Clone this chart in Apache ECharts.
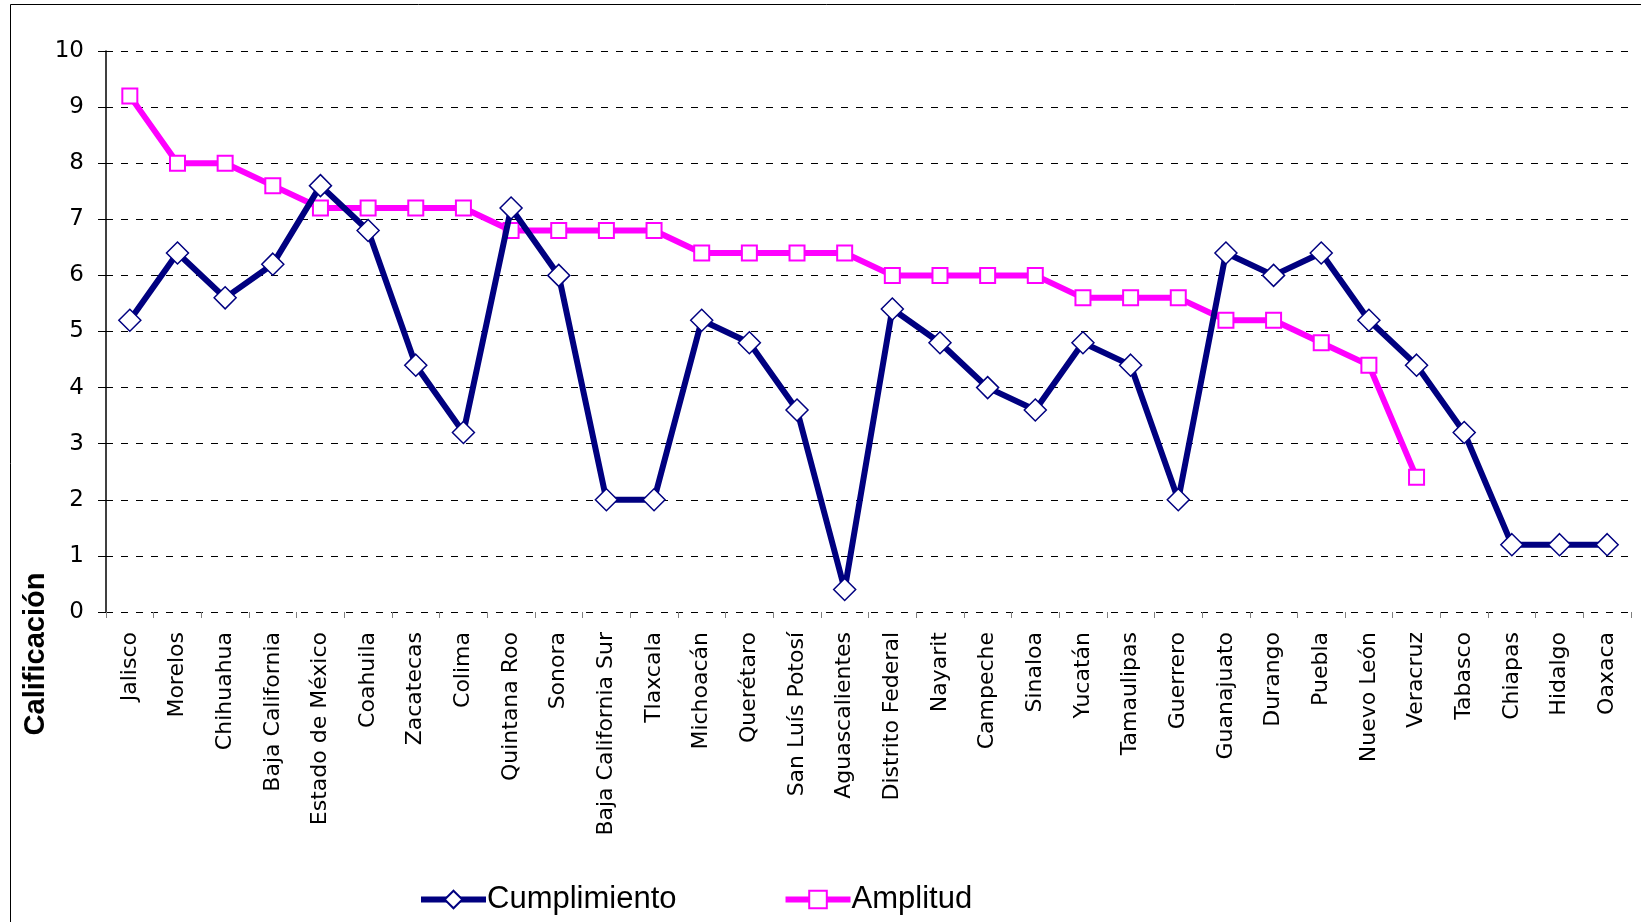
<!DOCTYPE html>
<html>
<head>
<meta charset="utf-8">
<script src="https://cdn.jsdelivr.net/npm/echarts@6/dist/echarts.min.js"></script>
<style>
html,body{margin:0;padding:0;background:#fff;}
#chart{width:1641px;height:922px;}
</style>
</head>
<body>
<div id="chart"></div>
<script>
const categories = ["Jalisco","Morelos","Chihuahua","Baja California","Estado de México","Coahuila","Zacatecas","Colima","Quintana Roo","Sonora","Baja California Sur","Tlaxcala","Michoacán","Querétaro","San Luís Potosí","Aguascalientes","Distrito Federal","Nayarit","Campeche","Sinaloa","Yucatán","Tamaulipas","Guerrero","Guanajuato","Durango","Puebla","Nuevo León","Veracruz","Tabasco","Chiapas","Hidalgo","Oaxaca"];
const cumplimiento = [5.2,6.4,5.6,6.2,7.6,6.8,4.4,3.2,7.2,6.0,2.0,2.0,5.2,4.8,3.6,0.4,5.4,4.8,4.0,3.6,4.8,4.4,2.0,6.4,6.0,6.4,5.2,4.4,3.2,1.2,1.2,1.2];
const amplitud = [9.2,8.0,8.0,7.6,7.2,7.2,7.2,7.2,6.8,6.8,6.8,6.8,6.4,6.4,6.4,6.4,6.0,6.0,6.0,6.0,5.6,5.6,5.6,5.2,5.2,4.8,4.4,2.4,null,null,null,null];
const yTicks = [0,1,2,3,4,5,6,7,8,9,10];
const yTitle = "Calificación";
const seriesNames = ["Cumplimiento","Amplitud"];

const chart = echarts.init(document.getElementById('chart'), null, {renderer:'canvas'});
chart.setOption({
  animation: false,
  backgroundColor: '#ffffff',
  grid: {left: 106, right: 10, top: 51, bottom: 310, containLabel: false},
  xAxis: {
    type: 'category',
    data: categories,
    boundaryGap: true,
    axisLine: {show: false},
    axisTick: {show: true, length: 6, lineStyle: {color: '#808080', width: 1}},
    axisLabel: {rotate: 90, interval: 0, margin: 20, fontSize: 22, color: '#000', fontFamily: 'DejaVu Sans'},
    splitLine: {show: false}
  },
  yAxis: {
    type: 'value',
    min: yTicks[0],
    max: yTicks[yTicks.length-1],
    interval: 1,
    axisLine: {show: true, lineStyle: {color: '#000', width: 1.5}},
    axisTick: {show: true, length: 8, lineStyle: {color: '#000', width: 1}},
    axisLabel: {fontSize: 23, color: '#000', margin: 22, fontFamily: 'DejaVu Sans'},
    splitLine: {show: true, lineStyle: {color: '#000', width: 1, type: [7, 8]}}
  },
  legend: {
    left: 413,
    top: 879,
    itemWidth: 65,
    itemHeight: 22,
    itemGap: 106,
    lineStyle: {width: 6},
    textStyle: {fontSize: 31, color: '#000', fontFamily: 'Liberation Sans', padding: [0,0,0,-4]},
    data: seriesNames
  },
  graphic: [
    {type: 'rect', silent: true, z: -1, shape: {x: 10.5, y: 4.5, width: 1700, height: 1000}, style: {fill: 'none', stroke: '#000', lineWidth: 1}},
    {type: 'text', x: 36, y: 654, rotation: Math.PI/2, style: {text: yTitle, font: 'bold 29px "Liberation Sans", Arial, sans-serif', fill: '#000', align: 'center', verticalAlign: 'middle'}}
  ],
  series: [
    {
      name: seriesNames[0],
      type: 'line',
      data: cumplimiento,
      symbol: 'diamond',
      symbolSize: 22,
      showAllSymbol: true,
      z: 3,
      lineStyle: {color: '#000080', width: 6},
      itemStyle: {color: '#ffffff', borderColor: '#000080', borderWidth: 1.5},
      emphasis: {disabled: true}
    },
    {
      name: seriesNames[1],
      type: 'line',
      data: amplitud,
      symbol: 'rect',
      symbolSize: 15,
      showAllSymbol: true,
      z: 2,
      lineStyle: {color: '#ff00ff', width: 6},
      itemStyle: {color: '#ffffff', borderColor: '#ff00ff', borderWidth: 2},
      emphasis: {disabled: true}
    }
  ]
});
</script>
</body>
</html>
